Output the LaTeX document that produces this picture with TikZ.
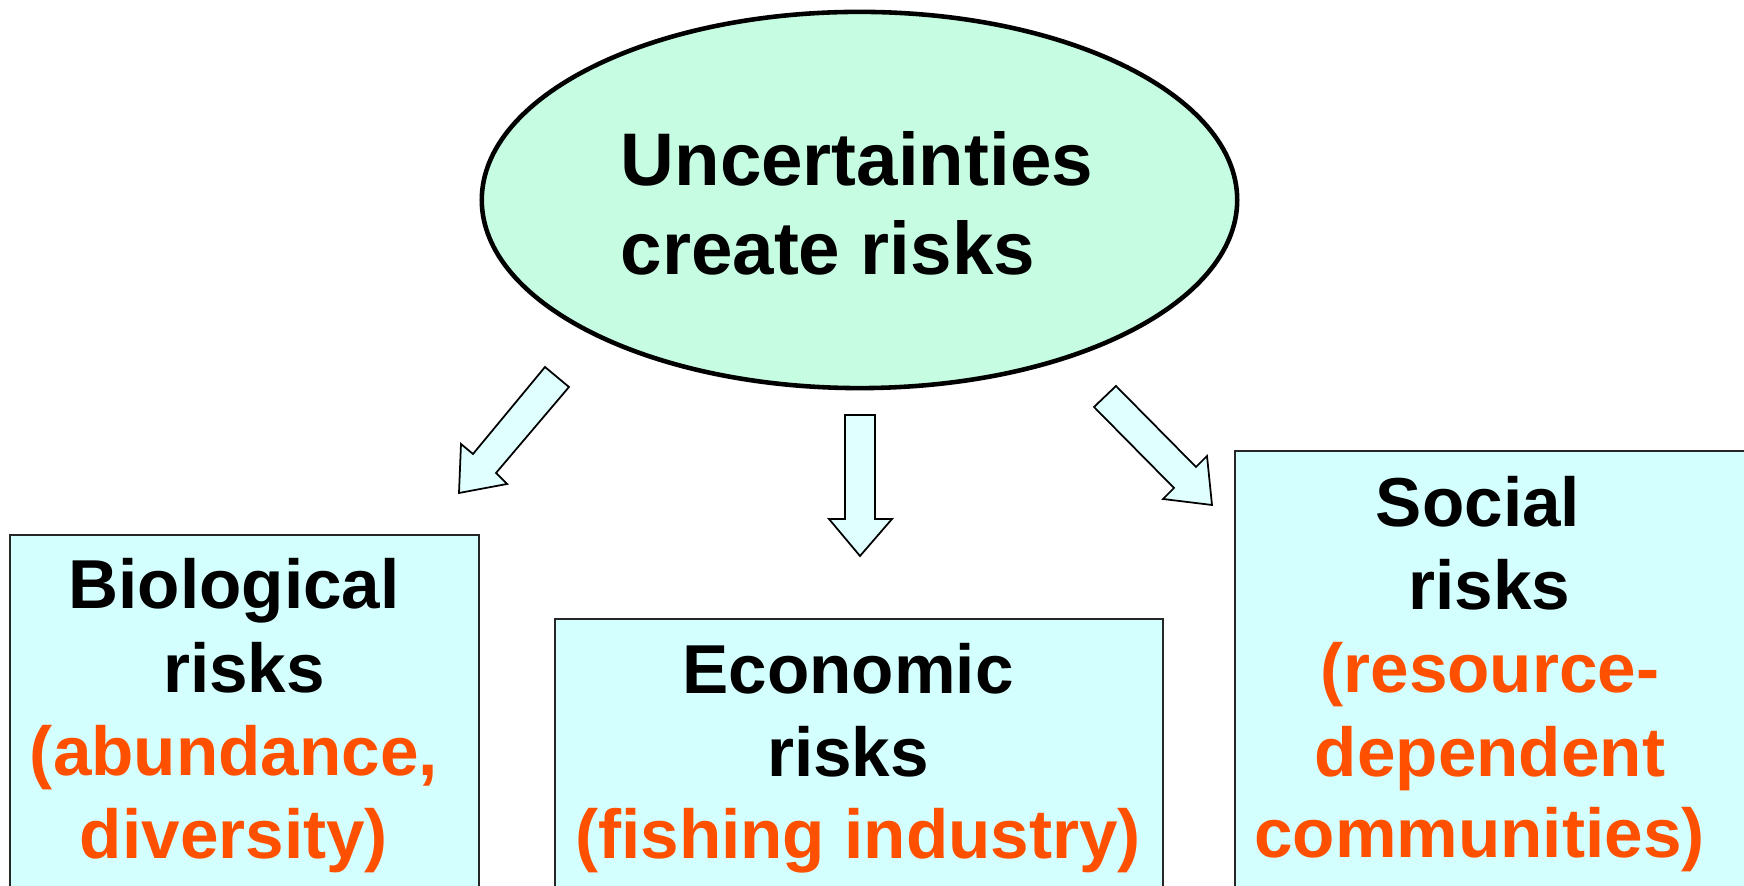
\documentclass[tikz,border=0pt]{standalone}
\usepackage{fontspec}
\setmainfont{Liberation Sans}
\usetikzlibrary{shapes.geometric}
\definecolor{ovalfill}{RGB}{198,252,226}
\definecolor{boxfill}{RGB}{212,255,255}
\definecolor{arrowfill}{RGB}{224,255,255}
\definecolor{noteorange}{RGB}{255,80,0}
\begin{document}
\begin{tikzpicture}[x=0.01cm,y=-0.01cm,
  oval/.style={ellipse, draw=black, line width=1.3pt, fill=ovalfill,
    minimum width=7.55cm, minimum height=3.76cm, inner sep=0pt},
  riskbox/.style={rectangle, draw=black!85, line width=0.6pt, fill=boxfill,
    anchor=north west, inner sep=0pt},
  blockarrow/.style={draw=black, line width=0.5pt, fill=arrowfill, line join=miter},
  head/.style={font=\fontsize{21.2pt}{25pt}\selectfont\bfseries,
    anchor=base west, inner sep=0pt},
  title/.style={font=\fontsize{19.7pt}{23.6pt}\selectfont\bfseries,
    anchor=base, inner sep=0pt},
  note/.style={title, text=noteorange}]
\clip (0,0) rectangle (1744,886);
\fill[white] (0,0) rectangle (1744,886);

% central oval
\node[oval] (unc) at (859.5,200) {};
\node[head] (unc1) at (620,186) {Uncertainties};
\node[head] (unc2) at (620,275) {create risks};

% the three risk boxes (running off the bottom edge)
\node[riskbox, minimum width=4.69cm, minimum height=4cm] (bio) at (9,534) {};
\node[riskbox, minimum width=6.08cm, minimum height=3cm] (eco) at (554,618) {};
\node[riskbox, minimum width=5.2cm, minimum height=5cm] (soc) at (1234,450) {};

% biological
\node[title] (bio1) at (234,609) {Biological};
\node[title] (bio2) at (244,693) {risks};
\node[note]  (bio3) at (234,776) {(abundance,};
\node[note]  (bio4) at (234,859) {diversity)};

% economic
\node[title] (eco1) at (848,694) {Economic};
\node[title] (eco2) at (848,777) {risks};
\node[note]  (eco3) at (858,859) {(fishing industry)};

% social
\node[title] (soc1) at (1478,527) {Social};
\node[title] (soc2) at (1489.5,610) {risks};
\node[note]  (soc3) at (1490,693) {(resource-};
\node[note]  (soc4) at (1490,777) {dependent};
\node[note]  (soc5) at (1479.5,858) {communities)};

% block arrows from the oval toward the boxes
\draw[blockarrow] (545,367) -- (569,387) -- (496,473) -- (507,484) -- (459,493)
  -- (461,444) -- (473,454) -- cycle;
\draw[blockarrow] (845,415) -- (875,415) -- (875,519) -- (892,519) -- (860,556)
  -- (829,519) -- (845,519) -- cycle;
\draw[blockarrow] (1116,386) -- (1196,467) -- (1207,456) -- (1212,505)
  -- (1163,499) -- (1174,488) -- (1094,407) -- cycle;
\end{tikzpicture}
\end{document}
